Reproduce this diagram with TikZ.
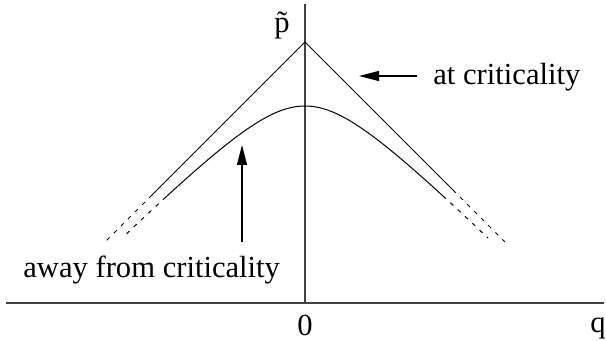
\documentclass[tikz,border=0pt]{standalone}
\usepackage{fontspec}
\setmainfont{Liberation Serif}
\newfontfamily\timesfont{Liberation Serif}
\usetikzlibrary{arrows.meta}
\begin{document}
\begin{tikzpicture}[x=5pt,y=-5pt,
  lbl/.style={inner sep=0pt,font=\timesfont\fontsize{15.3}{18}\selectfont},
  axisline/.style={line width=0.65pt,black!75},
  curveline/.style={line width=0.5pt},
  dashline/.style={line width=0.5pt,dash pattern=on 2pt off 3pt},
  pointer/.style={line width=0.55pt,-{Triangle[length=10pt,width=5pt]}}]
\useasboundingbox (0,0) rectangle (60.6,34.1);
% axes
\coordinate (ytop) at (30.5,0.4);
\coordinate (origin) at (30.5,30.3);
\coordinate (xl) at (0.6,30.3);
\coordinate (xr) at (60.4,30.3);
\draw[axisline] (ytop) -- (origin);
\draw[axisline] (xl) -- (xr);
% critical lines
\coordinate (apex) at (30.5,4.2);
\coordinate (ls) at (15.2,19.5);
\coordinate (le) at (10.6,24.1);
\coordinate (rs) at (45.3,19.0);
\coordinate (re) at (50.5,24.2);
\draw[curveline] (ls) -- (apex) -- (rs);
\draw[dashline] (ls) -- (le);
\draw[dashline] (rs) -- (re);
% away from criticality
\draw[curveline] plot[domain=-13.9:13.8,samples=120] ({30.5+\x},{4.52+sqrt(\x*\x+36.97)});
\draw[dashline] plot[domain=-13.9:-17.9,samples=20] ({30.5+\x},{4.52+sqrt(\x*\x+36.97)});
\draw[dashline] plot[domain=13.8:18.3,samples=20] ({30.5+\x},{4.52+sqrt(\x*\x+36.97)});
% labels
\node[lbl,anchor=base] (ptilde) at (28.2,3.3) {\~{p}};
\node[lbl,anchor=base] (zero) at (30.5,33.6) {0};
\node[lbl,anchor=base west] (qlab) at (59.0,33.3) {q};
\node[lbl,anchor=base west] (atc) at (43.3,8.5) {at criticality};
\node[lbl,anchor=base west] (awc) at (2.3,27.8) {away from criticality};
% pointers
\coordinate (a1s) at (41.7,7.6);
\coordinate (a1e) at (35.9,7.6);
\coordinate (a2s) at (24.2,24.2);
\coordinate (a2e) at (24.2,14.5);
\draw[pointer] (a1s) -- (a1e);
\draw[pointer] (a2s) -- (a2e);
\end{tikzpicture}
\end{document}
